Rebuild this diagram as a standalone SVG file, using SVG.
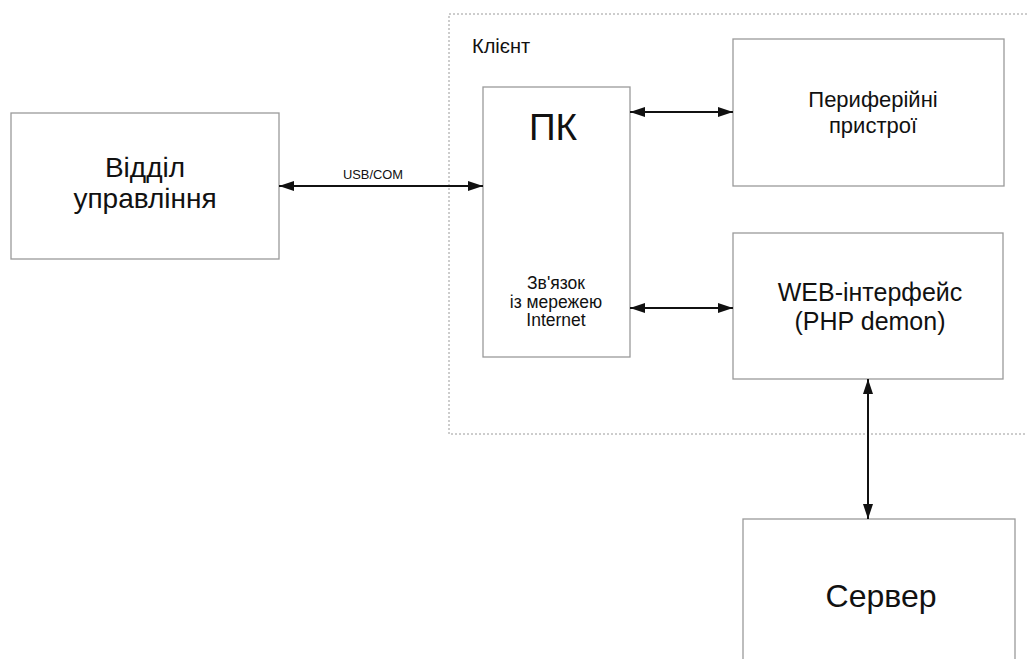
<svg xmlns="http://www.w3.org/2000/svg" width="1027" height="659" viewBox="0 0 1027 659">
<style>
.box{fill:#fff;stroke:#9a9a9a;stroke-width:1.3}
.t{font-family:"Liberation Sans",Arial,sans-serif;fill:#111;text-anchor:middle}
.c{stroke:#111;stroke-width:2;fill:none;marker-start:url(#a);marker-end:url(#a)}
</style>
<defs>
<marker id="a" viewBox="0 0 15 10" refX="15" refY="5" markerWidth="15" markerHeight="10" markerUnits="userSpaceOnUse" orient="auto-start-reverse">
<path d="M0,0 L15,5 L0,10 Z" fill="#111"/>
</marker>
</defs>
<rect width="1027" height="659" fill="#fff"/>
<g id="client">
<rect x="449" y="14" width="590" height="420" fill="none" stroke="#9a9a9a" stroke-width="1" stroke-dasharray="2,2"/>
<text x="472" y="53" class="t" style="text-anchor:start" font-size="20">Клієнт</text>
</g>
<g id="viddil">
<rect class="box" x="11" y="113" width="268" height="146"/>
<text class="t" x="145" y="177" font-size="28">Відділ</text>
<text class="t" x="145" y="208" font-size="28">управління</text>
</g>
<g id="pk">
<rect class="box" x="483" y="87" width="147" height="270"/>
<text class="t" x="553" y="140" font-size="37">ПК</text>
<text class="t" x="556" y="289" font-size="17.5">Зв'язок</text>
<text class="t" x="556" y="307.5" font-size="17.5">із мережею</text>
<text class="t" x="556" y="326" font-size="17.5">Internet</text>
</g>
<g id="periph">
<rect class="box" x="733" y="39" width="271" height="147"/>
<text class="t" x="873" y="107" font-size="22">Периферійні</text>
<text class="t" x="873" y="133" font-size="22">пристрої</text>
</g>
<g id="web">
<rect class="box" x="733" y="233" width="270" height="146"/>
<text class="t" x="870" y="301" font-size="25">WEB-інтерфейс</text>
<text class="t" x="870" y="330" font-size="25">(PHP demon)</text>
</g>
<g id="server">
<rect class="box" x="743" y="519" width="272" height="160"/>
<text class="t" x="881" y="607" font-size="32">Сервер</text>
</g>
<g id="connectors">
<line class="c" x1="279" y1="186" x2="483" y2="186"/>
<text class="t" x="373" y="179" font-size="12.9">USB/COM</text>
<line class="c" x1="630" y1="112" x2="733" y2="112"/>
<line class="c" x1="630" y1="308" x2="733" y2="308"/>
<line class="c" x1="868" y1="379" x2="868" y2="519"/>
</g>
</svg>
